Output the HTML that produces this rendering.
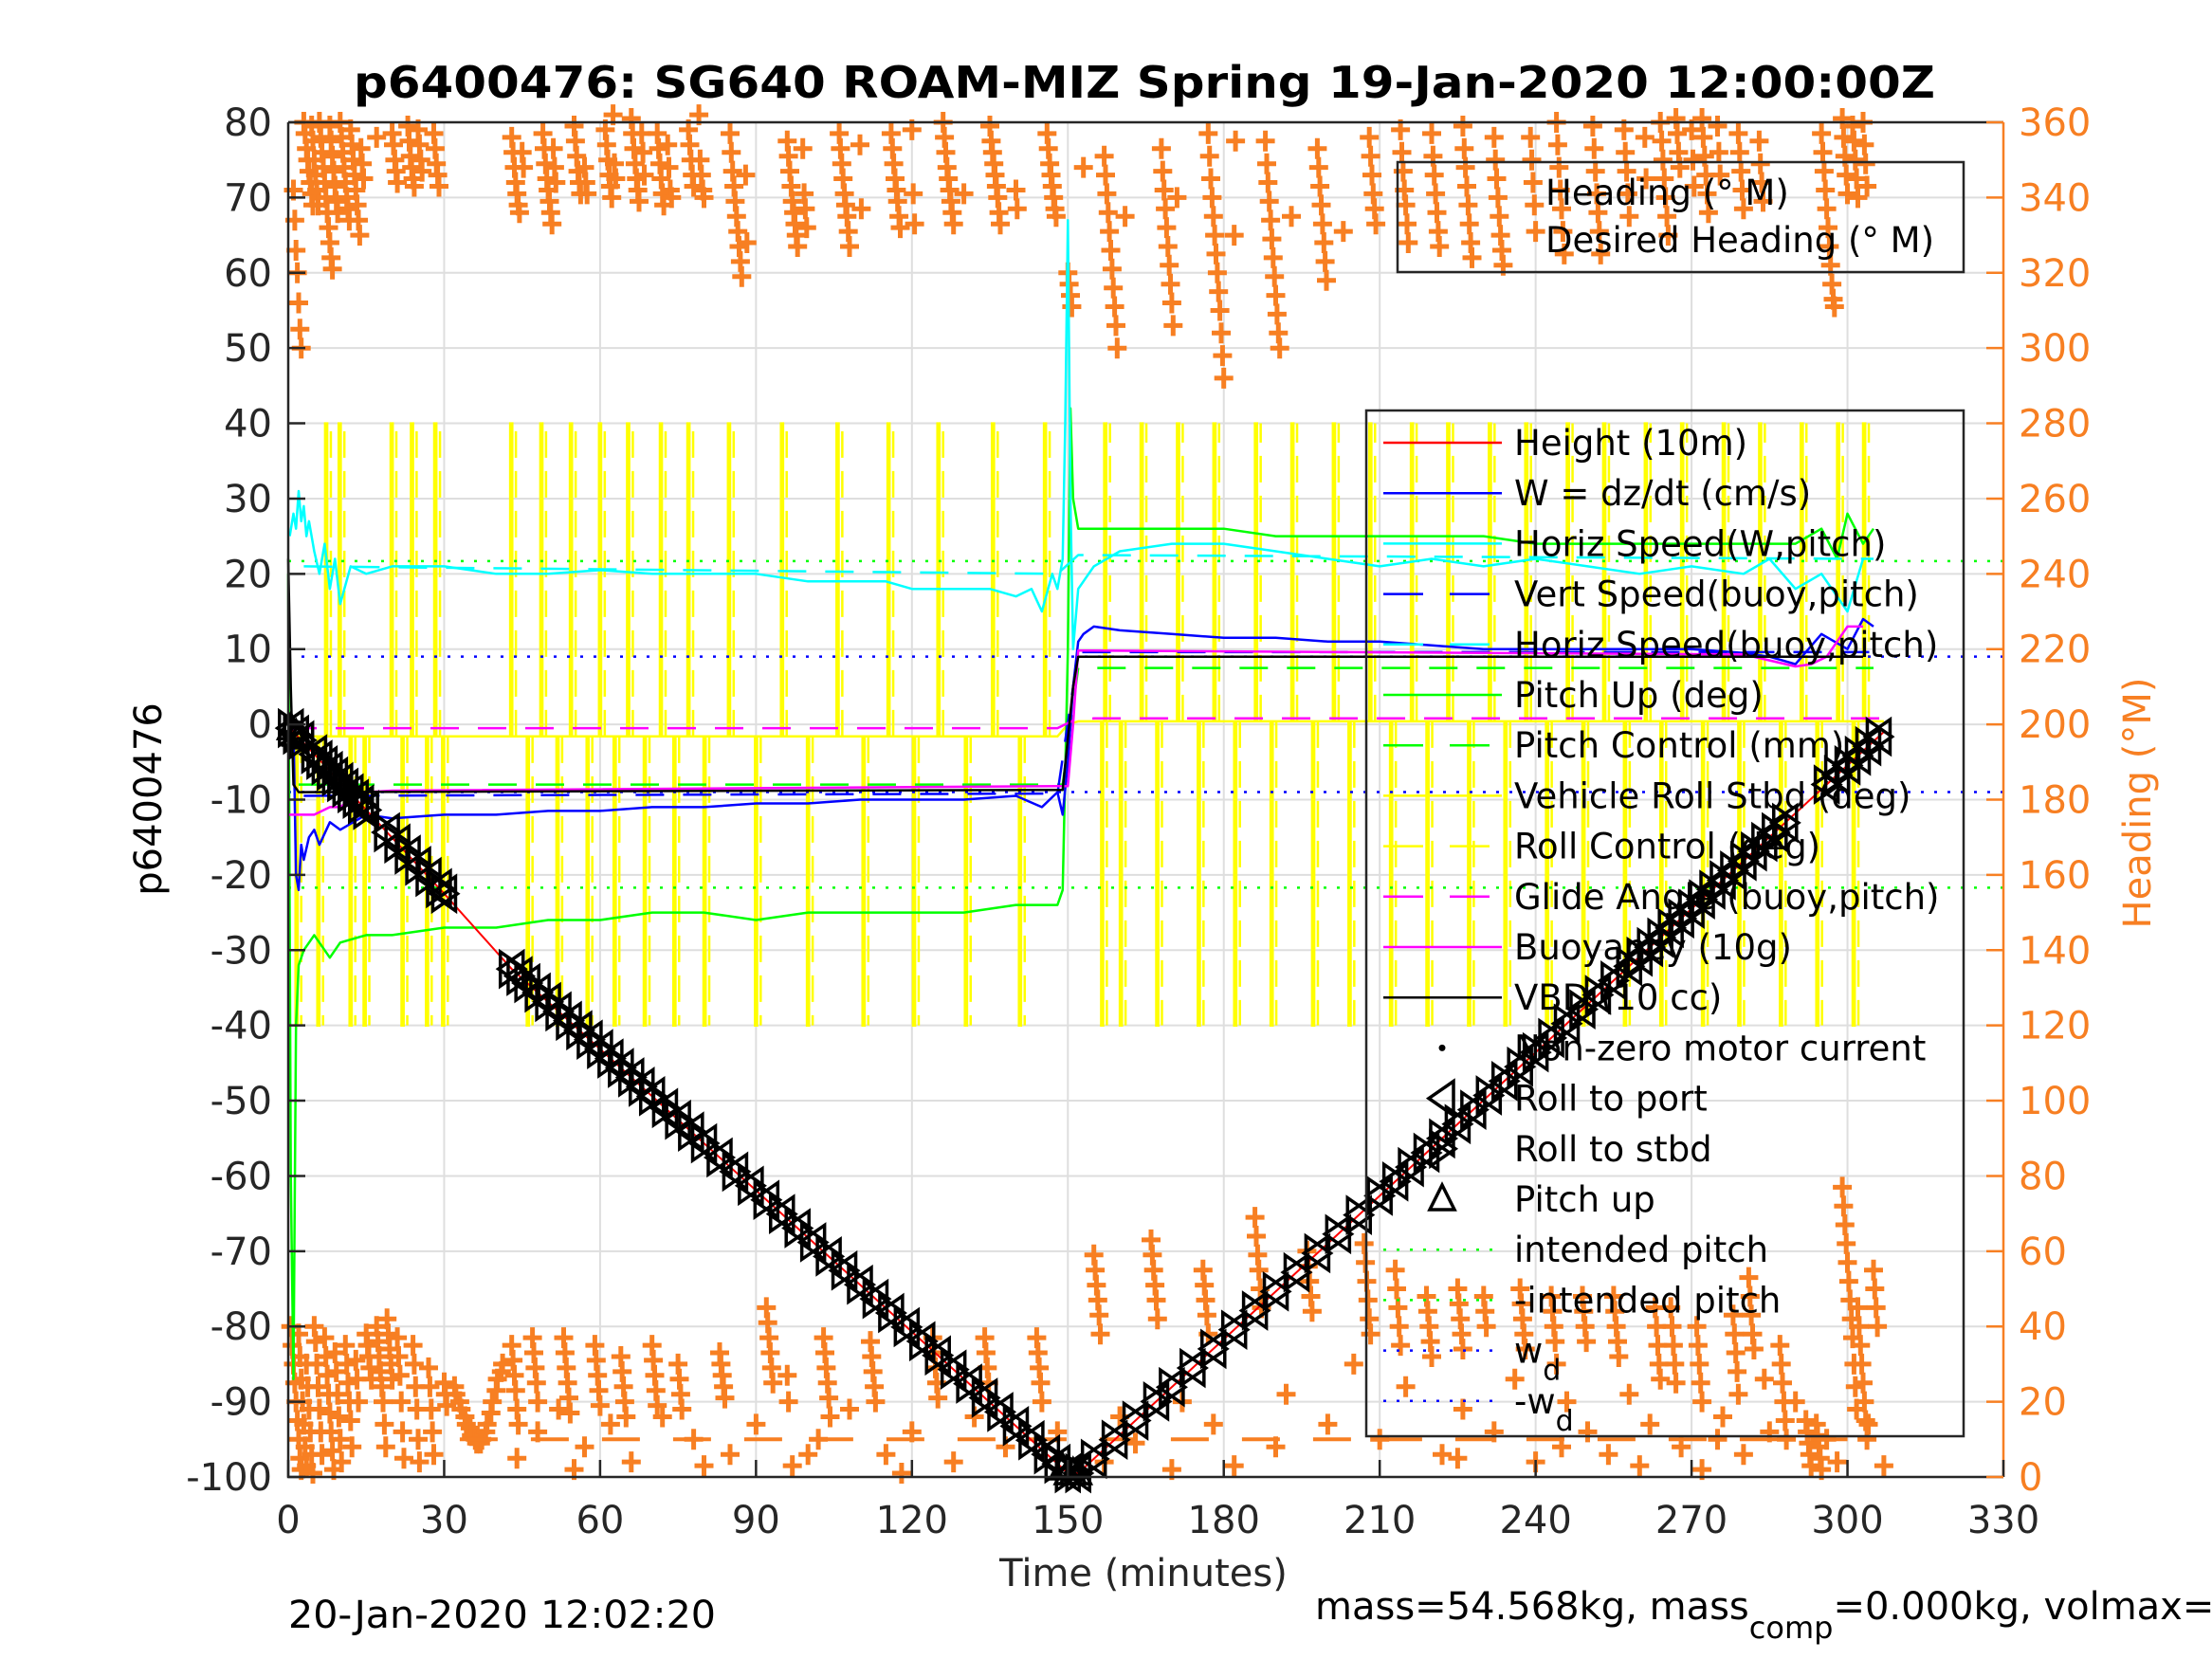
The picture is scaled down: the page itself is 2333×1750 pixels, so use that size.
<!DOCTYPE html>
<html><head><meta charset="utf-8"><style>
html,body{margin:0;padding:0;background:#fff;}
svg{display:block;font-family:"DejaVu Sans","Liberation Sans",sans-serif;}
</style></head><body>
<svg id="chart" width="2333" height="1750" viewBox="0 0 2333 1750" xmlns="http://www.w3.org/2000/svg">
<rect width="2333" height="1750" fill="#fff"/>
<g id="grid"></g>
<g id="plot"></g>
<g id="axes"></g>
<g id="legend"></g>
<text x="1207" y="103" text-anchor="middle" font-size="46" font-weight="bold" fill="#000" textLength="1668" lengthAdjust="spacingAndGlyphs">p6400476: SG640 ROAM-MIZ Spring 19-Jan-2020 12:00:00Z</text>
<text x="1206" y="1673" text-anchor="middle" font-size="40" fill="#262626">Time (minutes)</text>
<text transform="translate(170,843) rotate(-90)" text-anchor="middle" font-size="40" fill="#000">p6400476</text>
<text transform="translate(2268,847) rotate(-90)" text-anchor="middle" font-size="40" fill="#f77f22">Heading (°M)</text>
<text x="304" y="1717" font-size="40" fill="#000" textLength="451" lengthAdjust="spacingAndGlyphs">20-Jan-2020 12:02:20</text>
<text x="1387" y="1708" font-size="40" fill="#000">mass=54.568kg, mass<tspan dy="20" font-size="32">comp</tspan><tspan dy="-20">=0.000kg, volmax=52869cc</tspan></text>
</svg>
<script>
// ---------- data ----------
const xTicks=[0,30,60,90,120,150,180,210,240,270,300,330];
const yTicks=[80,70,60,50,40,30,20,10,0,-10,-20,-30,-40,-50,-60,-70,-80,-90,-100];
const hTicks=[360,340,320,300,280,260,240,220,200,180,160,140,120,100,80,60,40,20,0];

const depthT=[0,1,30,43,150,152,307];
const depthV=[0,-1,-22.5,-32.5,-99.5,-99.5,-1];

const wT=[1,1.5,2,2.5,3,4,5,6,8,10,15,20,30,40,50,60,70,80,90,100,110,120,130,140,145,148,149,150,151,152,153,155,160,170,180,190,200,210,220,230,240,250,260,270,280,285,290,295,300,303,305];
const wV=[0,-20,-22,-16,-18,-15,-14,-16,-13,-14,-12,-12.5,-12,-12,-11.5,-11.5,-11,-11,-10.5,-10.5,-10,-10,-10,-9.5,-11,-9,-12,-5,5,11,12,13,12.5,12,11.5,11.5,11,11,10.5,10,10,10,10,10,9.5,9,8,12,10,14,13];

const hspdT=[0.3,1,1.5,2,2.5,3,3.5,4,5,6,7,8,9,10,12,15,20,30,40,50,60,70,80,90,100,110,115,120,125,130,135,140,143,145,147,148,149,149.5,150,150.5,151,152,155,160,170,180,190,200,210,220,230,240,250,260,270,280,285,290,295,300,303];
const hspdV=[25,28,26,31,27,29,25,27,23,20,24,18,22,16,21,20,21,21,20,20,20.5,20,20,20,19,19,19,18,18,18,18,17,18,15,20,18,22,40,67,30,10,18,21,23,24,24,23,22,21,22,21,22,21,20,21,20,22,18,20,15,22];

const hspdBT=[3,148,152,305];
const hspdBV=[21,20,22.5,22];
const vspdBT=[3,148,152,305];
const vspdBV=[-9.5,-9.2,9.6,9.6];

const pitchT=[0,0.5,1,1.5,2,3,5,8,10,15,20,30,40,50,60,70,80,90,100,110,120,130,140,145,148,149,150,150.5,151,152,153,160,170,180,190,200,210,220,230,240,250,260,270,280,290,295,298,300,303,305];
const pitchV=[20,-60,-87,-40,-32,-30,-28,-31,-29,-28,-28,-27,-27,-26,-26,-25,-25,-26,-25,-25,-25,-25,-24,-24,-24,-22,10,42,30,26,26,26,26,26,25,25,25,25,25,24,24,24,24,24,24,26,22,28,24,26];

const pctlT=[2,148,149,152,305];
const pctlV=[-8,-8,-8,7.5,7.5];

const buoyT=[0,5,8,10,12,15,20,148,150,151,152,155,280,285,290,293,296,300,303];
const buoyV=[-12,-12,-11,-11,-10,-9,-8.8,-8.2,-8.2,0,9.8,9.8,9.3,8.5,7.7,8,9,13,13];

const vbdT=[0,0.5,1,2,148,149,151,152,300,303];
const vbdV=[22,5,-8,-9,-8.7,-8.7,5,9,9,9];

const glideT=[0,148,151,155,307];
const glideV=[-0.5,-0.5,0.5,0.8,0.8];

const rollBaseT=[0,148,150,152,307];
const rollBaseV=[-1.6,-1.6,0,0.4,0.4];
const rollUpT=[7.1,9.7,19.7,23.6,28.1,42.7,48.5,54.2,59.8,65.2,71.5,76.8,84.6,94.8,105.5,115.3,124.9,135.4,145.4,157,164,171,178,186,193,201,208,216,223,231,238,246,253,261,268,276,283,291,298,303];
const rollDnT=[1.4,5.6,11.8,14.5,21.8,26.5,29.6,45.9,51.6,57.4,62.6,68.4,74.1,79.9,89.8,99.8,110.5,120.2,130.2,140.6,156.4,160,167,175,182,189,197,204,212,219,227,234,242,249,257,264,272,279,287,294,301];

const intendedPitch=21.7;
const wDesired=9;

const rollEventT=[0.5,1.5,2.5,5,6,7,8,9,10,11,12,13,14,15,19,21,23,25,27,29,30,43,44.5,46,48,50,52,54,56,58,60,62,64,66,68,70,72.5,75,77.5,80,83,86,89,92,95,98,101,104,107,110,113,116,119,122,125,128,131,134,137,140,143,146,148,150,152,155,159,163,167,170,174,178,182,186,190,194,198,202,206,210,213,216,219,222,225,228,231,234,237,240,243,246,249,252,255,258,260,262,264,266,268,270,272,274,276,278,280,282,284,286,288,296,298,300,302,304,306];
const pitchUpT=[0.5,1.5,2,149,150,151,152];

const headColT=[1,3,4.5,6,8,10,12,14,17,20,23,25,28,43,45,49,51,55,57,61,62.5,66,68,71,73,77,79,85,88,96,99,106,110,116,120,126,130,135,140,146,150,153,157,161,168,171,177,182,188,193,198,203,208,214,220,226,232,239,244,251,257,261,264,267,270,272,275,279,283,295,299,301,303,
0.5,2,3.5,5,7,9,11,13,15,17,19,21,24,27,30,32,33,34,35,36,37,38,39,40,41,43,47,53,59,64,70,75,83,92,96,103,112,124,134,144,155,166,176,186,196,207,213,219,225,230,237,243,249,255,263,266,271,278,281,287,292,294,299,302,305];
const headColV=[[342,334,326,320,312,305,300],[360,357,353,350,347,344,341,338],[359,355,350,346,342,338],[360,356,352,348,344,340,336,332,328,324,321],[359,355,351,347,343,339,336],[360,356,352,348,344,340,337,334],[358,354,350,346,342,338,334,330],[353,349,345],[356],[357,354,350,347,344],[359,355,351,348,345,343],[358,354,350,347],[357,353,349,346,343],
[356,352,348,344,341,338,336],[352,348],[357,353,349,345,342,339,336,333],[353,348,344],[359,355,351,347,344,341],[348,344,341],[358,354,350,346,343,340],[362,349,345],[361,357,353,349,345,342,339],[357,352,346],[357,353,349,345,341,338],[354,348,342,340],[358,354,350,346,343],[362,350,346,342,340],[357,352,347,343,339,335,331,327,323,319],[346,328],[355,351,347,343,339,336,333,330,327],[353,341,337,332],[357,353,349,345,341,338,335,331,327],[354,337],[357,353,349,345,342,339,335,332],[358,341,333],[360,356,352,348,345,342,339,336,333],[341],[359,355,352,349,346,343,340,336,333],[342,337],[357,353,349,346,343,340,337,335],[320,317,314,311],[348],[351,346,341,336,331,326,321,316,311,306,300],[335],[353,347,342,337,332,327,322,317,312,306],[340],[357,351,345,340,335,330,325,320,315,310,304,298,292],[330,355],[355,349,344,339,334,329,324,319,314,309,304,300],[335],[353,348,343,338,333,328,323,318],[331],[356,351,346,341,337,333],[358,352,347,342,338,333,328],[357,351,346,341,336,331,327],[359,353,348,343,338,333,328,324],[356,350,345,340,335,330,326,322],[356,350,344,338,331],[360,354,348,342,337,331,325],[359,353,347,341,336,331,325],[358,352,347,341,335],[356,345],[360,355,350,345,340,335,330],[361,357,352,348],[358,350,343],[361,356,351,346,341,336],[359,352,346],[357,352,347,342,337],[355,349,344,339],[357,352,347,342,337,332,327,322,317,313,311],[361,356,351,346,341],[359,355,350,345,340],[360,354,349,343],
[40,35,30,25,20,15,10,5,2],[38,32,26,20,14,8,3],[30,24,18,12,6,1],[40,36,30,24,18,12,6],[37,32,27,22,17,12,7,2],[33,28,22,16,10,4],[35,30,25,20,15,8],[31,26,20],[38,35,32,29,26],[40,36,32,28,24,20,14,8],[42,38,34,30,26],[37,32,27,20,12,5],[35,30,24,18,10,4],[29,24,18,12,6],[25,22,19],[24,22],[20,18],[16,14],[13,11],[10,9],[9,10],[12,14],[17,20],[23,26],[28,30],[35,31,27,23,18,14],[37,33,29,25,20],[37,33,29,25,21,17],[35,31,27,23,19],[32,28,24,20,16],[35,31,27,23,19],[30,26,22,18],[33,30,27,24,21],[45,41,37,33,29,25],[27,20],[37,33,29,25,21,16],[36,32,28,24,20],[37,33,29,25,21],[37,33,29,25],[37,33,29,25,20],[59,55,51,47,43,38],[63,59,55,51,47,42],[55,51,47,43,38],[69,64,59,55,50,45],[60,56,52,48,44],[62,57,52,47,42,38],[55,50,45,40,35],[48,44,40,36,32],[50,46,42,38,34],[48,44,40],[50,46,42,38,34],[48,44,40,36,30],[48,44,40,36],[48,44,40,36,32],[45,40,35,30,26],[45,40,35,30,25],[40,35,30,25,20],[43,38,33,28,22],[53,48,43,38,34],[35,30,25,20,15,10],[15,12,9,6,3],[14,11,8,5,2],[77,72,67,62,57,52,47,42,37,30,24,18],[45,40,35,30,25,20,15,10],[55,50,45,40]];

const scatT=[48,52,57,62,66,72,78,85,90,97,102,108,115,120,128,132,138,148,157,160,163,170,172,178,182,190,192,200,205,210,215,222,226,232,236,240,246,250,254,258,262,268,272,276,280,284,290,296,298,304,307,225,245,260,275,285,44,55,80,100,118];
const scatH=[12,18,8,14,4,16,10,6,14,3,10,18,6,12,4,16,8,12,4,16,9,2,20,14,3,8,22,14,30,10,24,6,18,12,26,4,20,12,6,22,14,8,2,16,6,26,20,10,4,14,3,5,8,3,10,12,5,2,3,6,1];

const desiredT0=33, desiredT1=300, desiredH=10;

// ---------- scales ----------
const X0=304,X1=2113,Y0=129,Y1=1558;
function X(t){return X0+(t-0)/(330-0)*(X1-X0);}
function Y(v){return Y1-(v+100)/180*(Y1-Y0);}
function YH(h){return Y1-h/360*(Y1-Y0);}
const NS="http://www.w3.org/2000/svg";
function mk(tag,attrs,parent){const e=document.createElementNS(NS,tag);for(const k in attrs)e.setAttribute(k,attrs[k]);parent.appendChild(e);return e;}
function interp(ts,vs,t){if(t<=ts[0])return vs[0];for(let i=1;i<ts.length;i++){if(t<=ts[i]){const f=(t-ts[i-1])/(ts[i]-ts[i-1]);return vs[i-1]+f*(vs[i]-vs[i-1]);}}return vs[vs.length-1];}
function pathOf(ts,vs){return ts.map((t,i)=>(i?'L':'M')+X(t).toFixed(1)+' '+Y(vs[i]).toFixed(1)).join(' ');}

const grid=document.getElementById('grid');
const plot=document.getElementById('plot');
const axes=document.getElementById('axes');
const legend=document.getElementById('legend');

// grid
xTicks.forEach(t=>{const l=mk('line',{x1:X(t),x2:X(t),y1:Y0,y2:Y1,stroke:'#dedede','stroke-width':2},grid);

});
yTicks.forEach(v=>{const l=mk('line',{x1:X0,x2:X1,y1:Y(v),y2:Y(v),stroke:'#dedede','stroke-width':2},grid);

});

function line(ts,vs,color,w,dash,name){const p=mk('path',{d:pathOf(ts,vs),fill:'none',stroke:color,'stroke-width':w,'stroke-linejoin':'round'},plot);if(dash)p.setAttribute('stroke-dasharray',dash);

return p;}

// heading scatter
const hg=mk('g',{stroke:'#f77f22','stroke-width':5},plot);


function plus(t,h){const x=X(t),y=YH(h);const p=mk('path',{d:`M${(x-10).toFixed(1)} ${y.toFixed(1)}h20M${x.toFixed(1)} ${(y-11).toFixed(1)}v22`},hg);

}
headColT.forEach((t,i)=>{headColV[i].forEach((h,j)=>plus(t+j*0.25,h));});
scatT.forEach((t,i)=>plus(t,scatH[i]));
const dh=mk('line',{x1:X(desiredT0),x2:X(desiredT1),y1:YH(desiredH),y2:YH(desiredH),stroke:'#f77f22','stroke-width':4,'stroke-dasharray':'40 35'},plot);



// roll (yellow)
line(rollBaseT,rollBaseV,'#ffff00',2.5,null,'vehicle-roll-baseline');
const rg=mk('g',{stroke:'#ffff00','stroke-width':2.5,fill:'none'},plot);


function spike(t,amp){const b=interp(rollBaseT,rollBaseV,t);const x0=X(t),x1=X(t+0.4);const p=mk('path',{d:`M${x0.toFixed(1)} ${Y(b).toFixed(1)}L${x0.toFixed(1)} ${Y(amp).toFixed(1)}L${x1.toFixed(1)} ${Y(amp).toFixed(1)}L${x1.toFixed(1)} ${Y(b).toFixed(1)}`},rg);


const xc=X(t+1.1);const d=mk('line',{x1:xc,x2:xc,y1:Y(b),y2:Y(amp),'stroke-dasharray':'28 14'},rg);

}
rollUpT.forEach(t=>spike(t,40));
rollDnT.forEach(t=>spike(t,-40));

// reference dotted lines
[[intendedPitch,'#00ff00','intended-pitch-line'],[-intendedPitch,'#00ff00','neg-intended-pitch-line'],[wDesired,'#0000ff','wd-line'],[-wDesired,'#0000ff','neg-wd-line']].forEach(r=>{const l=mk('line',{x1:X0,x2:X1,y1:Y(r[0]),y2:Y(r[0]),stroke:r[1],'stroke-width':2.5,'stroke-dasharray':'3 11'},plot);

});

line(pitchT,pitchV,'#00ff00',2.5,null,'pitch-up-line');
line(pctlT,pctlV,'#00ff00',2.5,'30 20','pitch-control-line');
line(hspdBT,hspdBV,'#00ffff',2.5,'30 20','horiz-speed-buoy-line');
line(hspdT,hspdV,'#00ffff',2.5,null,'horiz-speed-w-line');
line(vspdBT,vspdBV,'#0000ff',2.5,'30 20','vert-speed-buoy-line');
line(wT,wV,'#0000ff',2.5,null,'w-dzdt-line');
line(glideT,glideV,'#ff00ff',2.5,'30 20','glide-angle-line');
line(buoyT,buoyV,'#ff00ff',2.5,null,'buoyancy-line');
line(vbdT,vbdV,'#000000',2.5,null,'vbd-line');
line(depthT,depthV,'#ff0000',2,null,'height-line');

// roll event markers
const mg=mk('g',{stroke:'#000','stroke-width':3.5,fill:'none'},plot);


rollEventT.forEach(t=>{const x=X(t),y=Y(interp(depthT,depthV,t));
const a=mk('path',{d:`M${x+12} ${y-18}L${x-14} ${y}L${x+12} ${y+18}Z`},mg);


const b=mk('path',{d:`M${x-12} ${y-18}L${x+14} ${y}L${x-12} ${y+18}Z`},mg);

});
pitchUpT.forEach(t=>{const x=X(t),y=Y(interp(depthT,depthV,t));
const a=mk('path',{d:`M${x} ${y-15}L${x+13} ${y+11}L${x-13} ${y+11}Z`},mg);

});

// axes
const ax=mk('path',{d:`M${X0} ${Y0}H${X1}M${X0} ${Y0}V${Y1}H${X1}`,stroke:'#262626','stroke-width':2.5,fill:'none'},axes);


const rax=mk('line',{x1:X1,x2:X1,y1:Y0,y2:Y1,stroke:'#f77f22','stroke-width':2.5},axes);


xTicks.forEach(t=>{const tk=mk('line',{x1:X(t),x2:X(t),y1:Y1,y2:Y1-18,stroke:'#262626','stroke-width':2.5},axes);


const tx=mk('text',{x:X(t),y:1617,'text-anchor':'middle','font-size':40,fill:'#262626'},axes);tx.textContent=t;

});
yTicks.forEach(v=>{const tk=mk('line',{x1:X0,x2:X0+18,y1:Y(v),y2:Y(v),stroke:'#262626','stroke-width':2.5},axes);


const tx=mk('text',{x:287,y:Y(v)+14,'text-anchor':'end','font-size':40,fill:'#262626'},axes);tx.textContent=v;

});
hTicks.forEach(h=>{const tk=mk('line',{x1:X1,x2:X1-18,y1:YH(h),y2:YH(h),stroke:'#f77f22','stroke-width':2.5},axes);


const tx=mk('text',{x:2129,y:YH(h)+14,'font-size':40,fill:'#f77f22'},axes);tx.textContent=h;

});

// main legend
const lb=mk('rect',{x:1441,y:433,width:630,height:1082,fill:'none',stroke:'#262626','stroke-width':2.5},legend);


const legLabels=['Height (10m)','W = dz/dt (cm/s)','Horiz Speed(W,pitch)','Vert Speed(buoy,pitch)','Horiz Speed(buoy,pitch)','Pitch Up (deg)','Pitch Control (mm)','Vehicle Roll Stbd (deg)','Roll Control (deg)','Glide Angle (buoy,pitch)','Buoyancy (10g)','VBD (10 cc)','Non-zero motor current','Roll to port','Roll to stbd','Pitch up','intended pitch','-intended pitch','w','-w'];
const legColors=['#ff0000','#0000ff','#00ffff','#0000ff','#00ffff','#00ff00','#00ff00','#ffff00','#ffff00','#ff00ff','#ff00ff','#000000','','','','','#00ff00','#00ff00','#0000ff','#0000ff'];
const legDash=['','','','42 28','42 28','','42 28','','42 28','42 28','','','','','','','3 11','3 11','3 11','3 11'];
legLabels.forEach((s,i)=>{const y=467+i*53.2;
if(legColors[i]){const l=mk('line',{x1:1459,x2:1584,y1:y,y2:y,stroke:legColors[i],'stroke-width':2.5},legend);if(legDash[i])l.setAttribute('stroke-dasharray',legDash[i]);

}
const tx=mk('text',{x:1597,y:y+13,'font-size':37,fill:'#000'},legend);tx.textContent=s;
if(s==='w'||s==='-w'){const sub=mk('tspan',{dy:18,'font-size':30},tx);sub.textContent='d';}

});
{const y=467+12*53.2;const d=mk('circle',{cx:1521,cy:y,r:3.5,fill:'#000'},legend);


let x=1521,yy=467+13*53.2;const a=mk('path',{d:`M${x+12} ${yy-18}L${x-14} ${yy}L${x+12} ${yy+18}Z`,fill:'none',stroke:'#000','stroke-width':3.5},legend);


yy=467+14*53.2;const b=mk('path',{d:`M${x-12} ${yy-18}L${x+14} ${yy}L${x-12} ${yy+18}Z`,fill:'none',stroke:'#000','stroke-width':3.5},legend);


yy=467+15*53.2;const c=mk('path',{d:`M${x} ${yy-15}L${x+13} ${yy+11}L${x-13} ${yy+11}Z`,fill:'none',stroke:'#000','stroke-width':3.5},legend);

}

// heading legend
const hb=mk('rect',{x:1474,y:171,width:597,height:116,fill:'none',stroke:'#262626','stroke-width':2.5},legend);


['Heading (° M)','Desired Heading (° M)'].forEach((s,i)=>{const tx=mk('text',{x:1630,y:216+i*50,'font-size':37,fill:'#000'},legend);tx.textContent=s;

});
</script>
</body></html>
